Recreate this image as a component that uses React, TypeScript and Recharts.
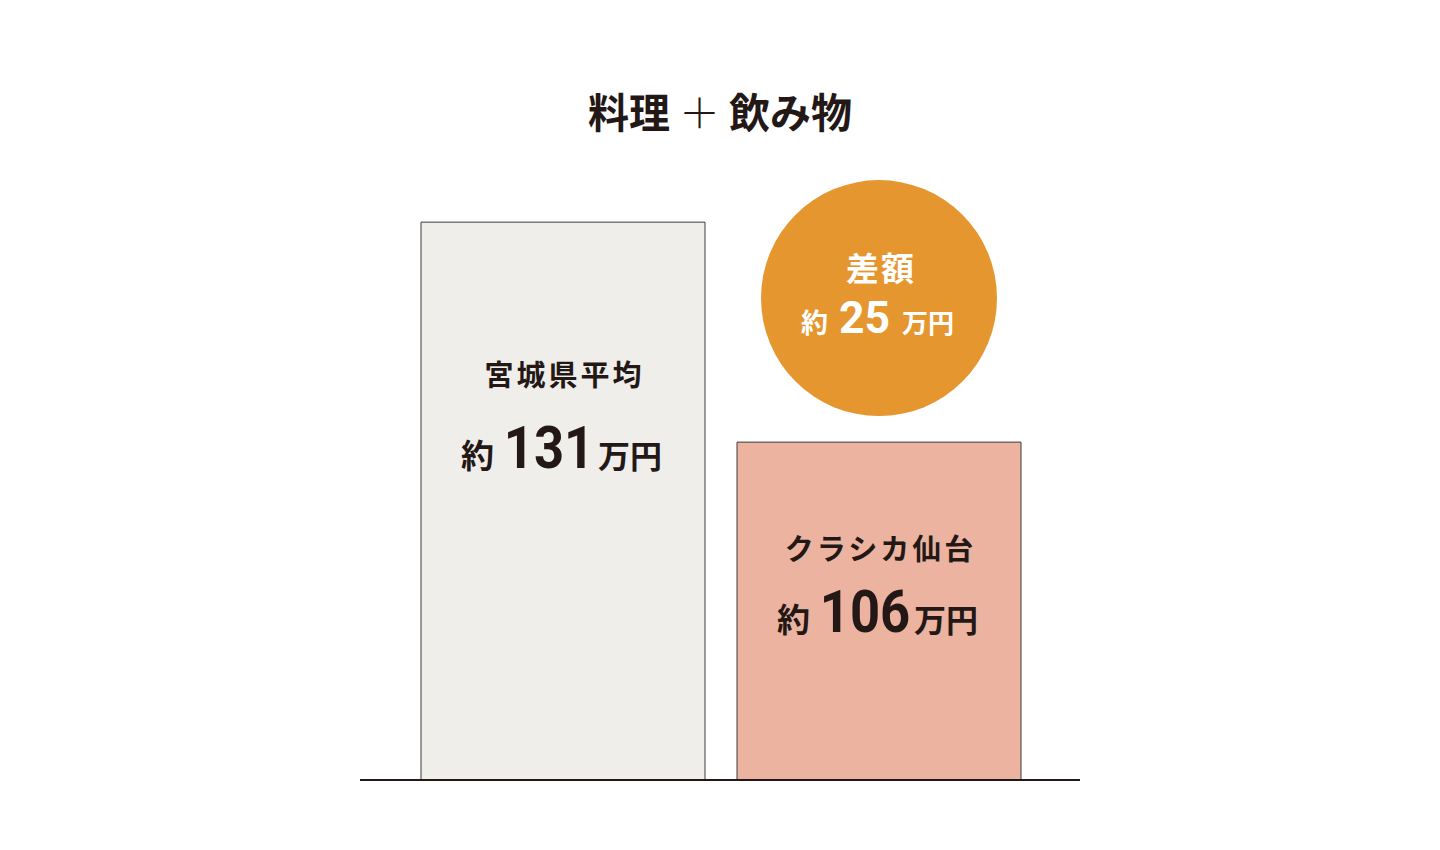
import React from 'react';
import { BarChart, Bar, XAxis, YAxis, Cell, LabelList } from 'recharts';

// ---- data ----
const categories = ['宮城県平均', 'クラシカ仙台'];
const amounts = [131, 106];
const titleParts = ['料理', '＋', '飲み物'];
const diffLabel = '差額';
const prefix = '約';
const unit = '万円';

const data = categories.map((name, i) => ({ name, value: amounts[i] }));

// ---- layout / style ----
const W = 1424;
const H = 842;
const JP = '"Noto Sans CJK JP", "Noto Sans", sans-serif';
const NUM = 'Roboto, "Noto Sans", sans-serif';
const INK = '#231815';
const FILLS = ['#EFEEEA', '#EBB3A0'];
const CIRCLE_FILL = '#E6962E';
const NAME_OFFSET = [151, 105];
const AMOUNT_OFFSET = [246, 190];
const LABEL_WEIGHT = 700;
const DIGIT_ADVANCE = 0.5615; // Roboto digit advance (em)

type AmountProps = {
  cx: number;
  y: number;
  value: number;
  color: string;
  prefixSize: number;
  numSize: number;
  unitSize: number;
  prefixRight: number;
  numCenter: number;
  digitWidth: number;
  unitLeft: number;
};

const Amount = (p: AmountProps) => {
  const str = String(p.value);
  const sx = p.digitWidth / (DIGIT_ADVANCE * p.numSize);
  return (
    <g fill={p.color}>
      <text x={p.cx + p.prefixRight} y={p.y} textAnchor="end" fontFamily={JP} fontWeight={LABEL_WEIGHT} fontSize={p.prefixSize}>
        {prefix}
      </text>
      <text
        x={0}
        y={0}
        transform={`translate(${p.cx + p.numCenter}, ${p.y}) scale(${sx}, 1)`}
        textAnchor="middle"
        fontFamily={NUM}
        fontWeight={700}
        fontSize={p.numSize}
      >
        {str}
      </text>
      <text x={p.cx + p.unitLeft} y={p.y} textAnchor="start" fontFamily={JP} fontWeight={LABEL_WEIGHT} fontSize={p.unitSize}>
        {unit}
      </text>
    </g>
  );
};

const DiffBubble = ({ cx, cy, diff }: { cx: number; cy: number; diff: number }) => (
  <g>
    <circle cx={cx} cy={cy} r={118} fill={CIRCLE_FILL} />
    <text
      x={cx + 2}
      y={cy - 31}
      textAnchor="middle"
      dominantBaseline="central"
      fill="#ffffff"
      fontFamily={JP}
      fontWeight={LABEL_WEIGHT}
      fontSize={33}
      letterSpacing={2}
    >
      {diffLabel}
    </text>
    <Amount
      cx={cx}
      y={cy + 35}
      value={diff}
      color="#ffffff"
      prefixSize={27}
      numSize={45}
      unitSize={26}
      prefixRight={-51}
      numCenter={-14.5}
      digitWidth={25}
      unitLeft={23}
    />
  </g>
);

const BarLabel = (props: any) => {
  const x = Number(props.x);
  const y = Number(props.y);
  const width = Number(props.width);
  const index: number = props.index;
  const value = Number(props.value);
  const cx = x + width / 2;
  return (
    <g>
      <text
        x={cx + 1.5}
        y={y + NAME_OFFSET[index]}
        textAnchor="middle"
        dominantBaseline="central"
        fill={INK}
        fontFamily={JP}
        fontWeight={LABEL_WEIGHT}
        fontSize={29}
        letterSpacing={3}
      >
        {categories[index]}
      </text>
      <Amount
        cx={cx}
        y={y + AMOUNT_OFFSET[index]}
        value={value}
        color={INK}
        prefixSize={33}
        numSize={60}
        unitSize={32}
        prefixRight={-69}
        numCenter={-14}
        digitWidth={29.5}
        unitLeft={35}
      />
      {index === 1 && <DiffBubble cx={cx} cy={y - 144} diff={amounts[0] - amounts[1]} />}
    </g>
  );
};

export default function App() {
  return (
    <div style={{ position: 'relative', width: W, height: H }}>
      <div
        style={{
          position: 'absolute',
          left: 0,
          top: 82,
          width: W,
          textAlign: 'center',
          fontFamily: JP,
          fontWeight: 700,
          fontSize: 41,
          lineHeight: '41px',
          color: INK,
        }}
      >
        {titleParts[0]}
        <span style={{ fontWeight: 300 }}> {titleParts[1]} </span>
        {titleParts[2]}
      </div>
      <BarChart
        width={W}
        height={H}
        data={data}
        margin={{ top: 142, right: 352, bottom: 69, left: 352 }}
        barCategoryGap={0}
      >
        <XAxis
          dataKey="name"
          height={1}
          tick={false}
          tickLine={false}
          axisLine={{ stroke: INK, strokeWidth: 2 }}
          padding={{ left: 45, right: 43 }}
        />
        <YAxis hide type="number" domain={[67.6, 139.2]} allowDataOverflow />
        <Bar dataKey="value" barSize={284} stroke="#3c3c3c" strokeWidth={1} isAnimationActive={false}>
          {data.map((d, i) => (
            <Cell key={d.name} fill={FILLS[i]} />
          ))}
          <LabelList dataKey="value" content={BarLabel} />
        </Bar>
      </BarChart>
    </div>
  );
}
